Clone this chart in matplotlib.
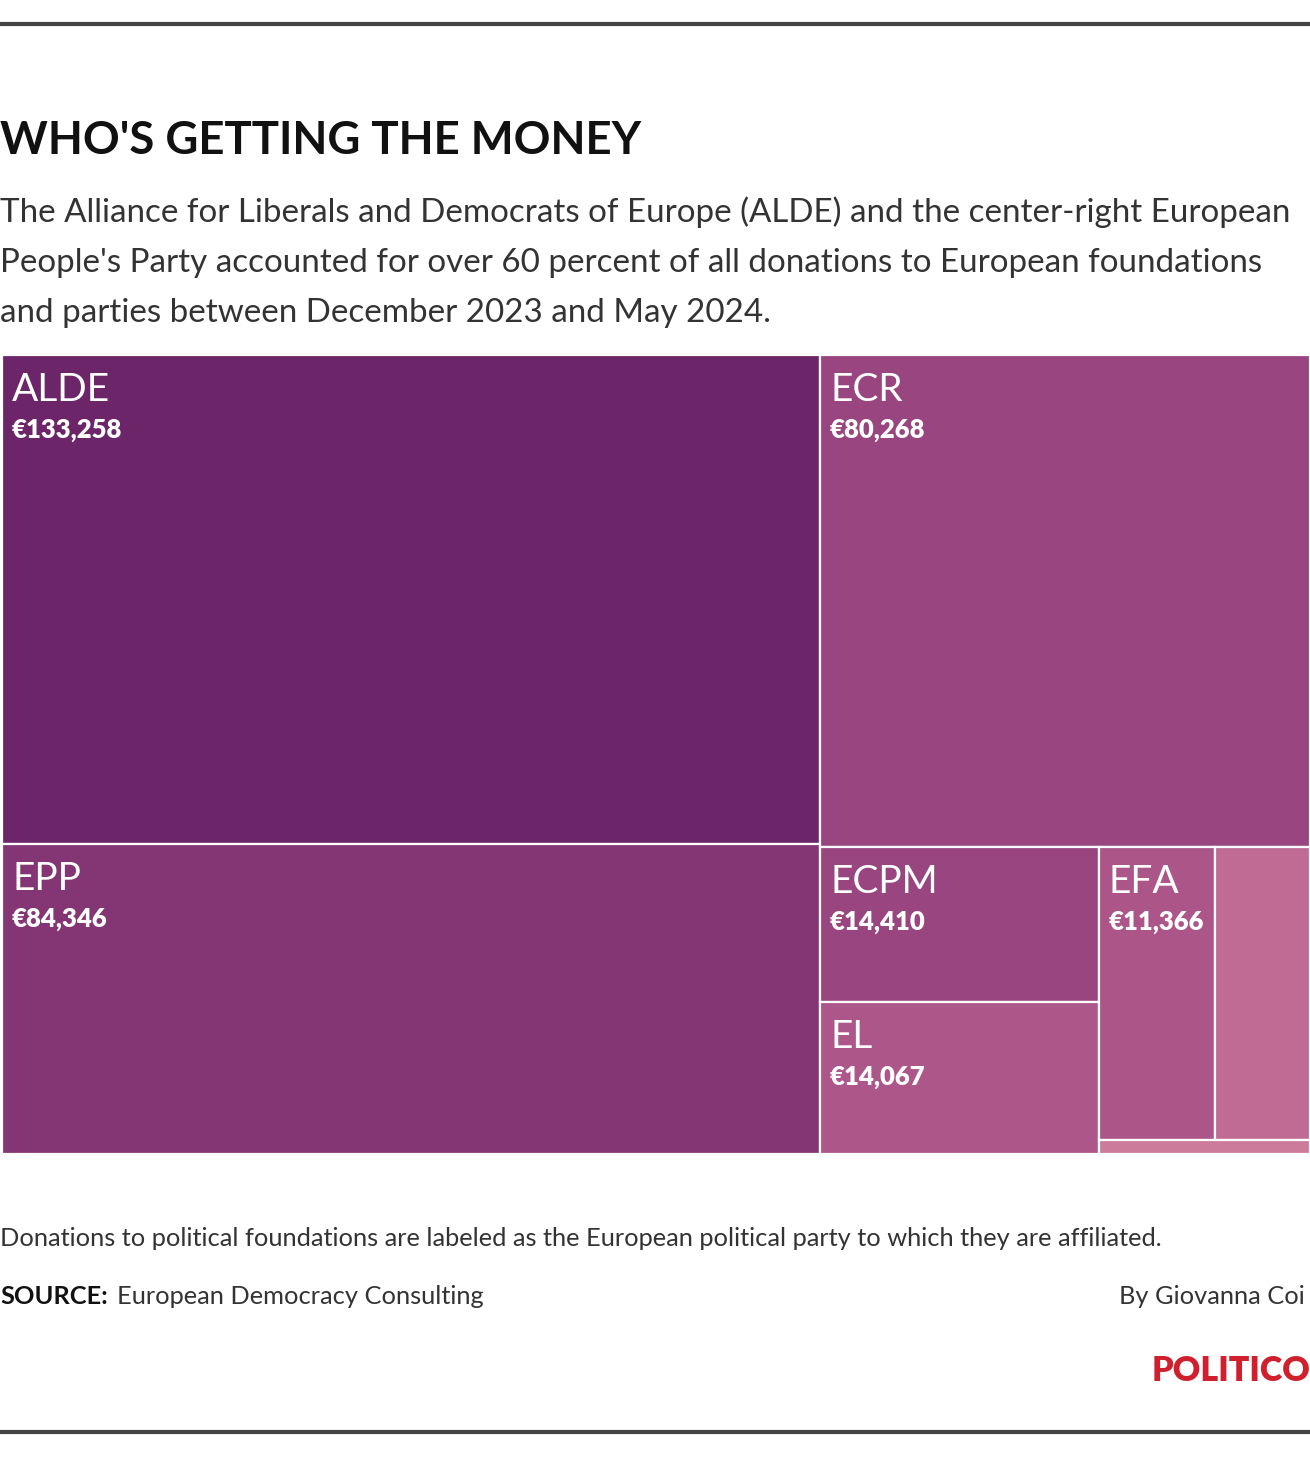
import matplotlib
matplotlib.use('Agg')
import matplotlib.pyplot as plt
from matplotlib.patches import Rectangle

plt.rcParams['font.family'] = ['Lato', 'DejaVu Sans']

# data (euros donated, Dec 2023 - May 2024)
parties = ['ALDE', 'EPP', 'ECR', 'ECPM', 'EL', 'EFA', '', '']
amounts = [133258, 84346, 80268, 14410, 14067, 11366, 9250, 985]
colors = ['#6b2568', '#833574', '#99457f', '#99457f', '#ad5689',
          '#ab5588', '#c06b93', '#cc7b9a']

INK = '#111111'
TEXT = '#333333'
RULE = '#444444'
PHI = (1 + 5 ** 0.5) / 2


def squarify(values, x0, y0, x1, y1, ratio=PHI):
    """d3-style squarified treemap; returns (x, y, w, h) per value."""
    out = []
    total = float(sum(values))
    i0 = i1 = 0
    n = len(values)
    while i0 < n:
        dx, dy = x1 - x0, y1 - y0
        s = values[i1]
        i1 += 1
        lo = hi = s
        alpha = max(dy / dx, dx / dy) / (total * ratio)
        beta = s * s * alpha
        best = max(hi / beta, beta / lo)
        while i1 < n:
            v = values[i1]
            s += v
            lo, hi = min(lo, v), max(hi, v)
            beta = s * s * alpha
            r = max(hi / beta, beta / lo)
            if r > best:
                s -= v
                break
            best = r
            i1 += 1
        row = values[i0:i1]
        if dx < dy:  # horizontal row across the top
            h = dy * s / total
            x = x0
            for v in row:
                w = dx * v / s
                out.append((x, y0, w, h))
                x += w
            y0 += h
        else:  # vertical column on the left
            w = dx * s / total
            y = y0
            for v in row:
                h = dy * v / s
                out.append((x0, y, w, h))
                y += h
            x0 += w
        total -= s
        i0 = i1
    return out


fig = plt.figure(figsize=(13.1, 14.8), dpi=100)
ax = fig.add_axes([0, 0, 1, 1])
ax.set_xlim(0, 1310)
ax.set_ylim(1480, 0)
ax.axis('off')

# rules
ax.plot([0, 1310], [24, 24], color=RULE, lw=3, solid_capstyle='butt')
ax.plot([0, 1310], [1432, 1432], color=RULE, lw=3, solid_capstyle='butt')

# header
ax.text(0, 141, "WHO'S GETTING THE MONEY", fontsize=32.8, fontweight='bold',
        color=INK, ha='left', va='center')
sub = ('The Alliance for Liberals and Democrats of Europe (ALDE) and the center-right European\n'
       "People's Party accounted for over 60 percent of all donations to European foundations\n"
       'and parties between December 2023 and May 2024.')
ax.text(0, 196, sub, fontsize=23.9, color=TEXT, ha='left', va='top',
        linespacing=1.84)

# treemap
rects = squarify(amounts, 2, 355, 1310, 1154)
for (x, y, w, h), name, val, c in zip(rects, parties, amounts, colors):
    ax.add_patch(Rectangle((x, y), w, h, facecolor=c, edgecolor='white',
                           lw=1.6))
    if name:
        ax.text(x + 10, y + 35, name, fontsize=28, fontweight='normal',
                color='white', ha='left', va='center')
        ax.text(x + 10, y + 75, f'€{val:,}', fontsize=18.5, fontweight='heavy',
                color='white', ha='left', va='center')

# footer
FS = 18.3
ax.text(0, 1238, 'Donations to political foundations are labeled as the European '
        'political party to which they are affiliated.', fontsize=FS,
        color=TEXT, ha='left', va='center')
ax.text(0, 1296, 'SOURCE:', fontsize=FS, fontweight='bold', color=INK,
        ha='left', va='center')
ax.text(117, 1296, 'European Democracy Consulting', fontsize=FS, color=TEXT,
        ha='left', va='center')
ax.text(1305, 1296, 'By Giovanna Coi', fontsize=FS, color=TEXT,
        ha='right', va='center')
ax.text(1310, 1371, 'POLITICO', fontsize=24.5, fontweight='heavy',
        color='#d0202e', ha='right', va='center')

fig.savefig('out.png', dpi=100)
